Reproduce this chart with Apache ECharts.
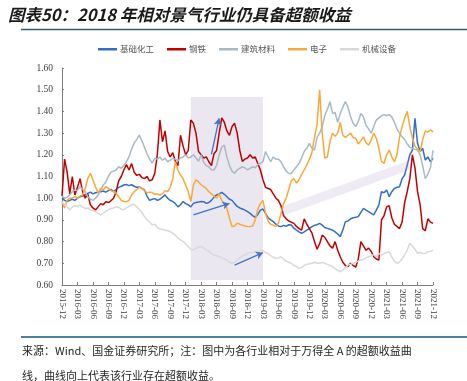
<!DOCTYPE html>
<html>
<head>
<meta charset="utf-8">
<script src="https://cdn.jsdelivr.net/npm/echarts@6/dist/echarts.min.js"></script>
<style>
html,body{margin:0;padding:0;background:#fff;}
#chart{width:467px;height:381px;}
</style>
</head>
<body>
<div id="chart"></div>
<script>
// Semi-monthly observations from 2015-12 to 2021-12 (145 points)
const categories = [];
for (let k = 0; k < 145; k++) {
  const m = 11 + Math.floor(k / 2);
  const y = 2015 + Math.floor(m / 12);
  const mm = (m % 12) + 1;
  categories.push(y + '-' + String(mm).padStart(2, '0') + (k % 2 ? '-16' : '-01'));
}
const tickLabels = ['2015-12','2016-03','2016-06','2016-09','2016-12','2017-03','2017-06','2017-09','2017-12',
  '2018-03','2018-06','2018-09','2018-12','2019-03','2019-06','2019-09','2019-12','2020-03','2020-06',
  '2020-09','2020-12','2021-03','2021-06','2021-09','2021-12'];
const seriesNames = ['基础化工','钢铁','建筑材料','电子','机械设备'];

const jichuhuagong = [
  1.00,0.99,0.985,0.99,0.995,0.99,1.00,1.007,1.01,1.015,
  1.022,1.028,1.02,1.025,1.027,1.03,1.033,1.028,1.035,1.041,
  1.03,1.04,1.05,1.055,1.061,1.063,1.058,1.062,1.055,1.05,
  1.052,1.045,1.038,1.01,0.99,0.995,0.998,0.99,0.995,1.005,
  1.015,1.0,0.99,0.985,0.975,0.96,0.97,0.985,0.975,0.97,
  0.96,0.976,0.98,0.982,0.985,0.984,0.976,0.98,0.99,1.005,
  1.015,1.02,1.027,1.018,1.007,0.995,0.99,0.975,0.962,0.955,
  0.95,0.945,0.938,0.93,0.92,0.912,0.925,0.945,0.95,0.93,
  0.91,0.9,0.892,0.88,0.872,0.869,0.875,0.87,0.878,0.876,
  0.862,0.853,0.845,0.838,0.845,0.853,0.86,0.869,0.875,0.878,
  0.884,0.876,0.865,0.861,0.857,0.853,0.845,0.835,0.823,0.853,
  0.892,0.895,0.905,0.91,0.912,0.915,0.935,0.953,0.945,0.938,
  0.93,0.923,0.945,0.969,1.03,1.025,1.038,1.007,1.03,1.045,
  1.05,1.053,1.09,1.107,1.153,1.2,1.222,1.368,1.253,1.215,
  1.23,1.176,1.19,1.168,1.184
];
const gangtie = [
  1.01,1.18,1.12,1.02,1.1,1.015,1.05,1.09,1.03,1.0,
  1.02,0.97,0.955,0.946,0.96,0.975,0.97,0.984,0.98,0.988,
  1.0,1.03,1.08,1.1,1.13,1.155,1.13,1.16,1.12,1.105,
  1.11,1.095,1.09,1.1,1.08,1.085,1.115,1.2,1.36,1.26,
  1.31,1.215,1.19,1.21,1.17,1.15,1.29,1.24,1.2,1.22,
  1.36,1.345,1.3,1.215,1.2,1.185,1.19,1.168,1.15,1.205,
  1.22,1.3,1.37,1.35,1.31,1.29,1.33,1.345,1.3,1.22,
  1.17,1.18,1.185,1.2,1.185,1.19,1.16,1.13,1.085,1.05,
  1.045,1.04,1.02,1.0,0.99,0.965,0.92,0.905,0.895,0.89,
  0.884,0.87,0.86,0.853,0.905,0.88,0.86,0.84,0.8,0.765,
  0.79,0.83,0.82,0.8,0.78,0.77,0.8,0.76,0.73,0.705,
  0.69,0.685,0.7,0.69,0.682,0.72,0.8,0.78,0.76,0.77,
  0.755,0.73,0.72,0.715,0.9,0.92,0.96,0.965,0.91,0.88,
  0.87,0.86,0.89,0.98,1.03,1.09,1.2,1.14,1.03,0.97,
  0.86,0.85,0.905,0.89,0.884
];
const jianzhucailiao = [
  1.01,1.0,1.005,1.015,1.03,1.038,1.035,1.053,1.04,1.03,
  1.007,0.995,0.99,1.0,1.015,1.038,1.06,1.075,1.1,1.12,
  1.125,1.13,1.145,1.138,1.15,1.168,1.19,1.225,1.255,1.27,
  1.291,1.265,1.235,1.205,1.18,1.162,1.184,1.18,1.19,1.175,
  1.185,1.168,1.175,1.184,1.18,1.172,1.185,1.19,1.2,1.185,
  1.19,1.2,1.185,1.17,1.2,1.165,1.15,1.145,1.131,1.13,
  1.15,1.2,1.235,1.245,1.19,1.15,1.125,1.115,1.13,1.138,
  1.145,1.14,1.13,1.138,1.145,1.14,1.155,1.16,1.168,1.215,
  1.19,1.168,1.19,1.18,1.18,1.168,1.145,1.125,1.115,1.113,
  1.13,1.145,1.16,1.185,1.215,1.23,1.253,1.23,1.222,1.28,
  1.3,1.33,1.38,1.41,1.445,1.391,1.395,1.35,1.39,1.42,
  1.445,1.42,1.376,1.345,1.33,1.353,1.39,1.375,1.335,1.32,
  1.3,1.33,1.36,1.37,1.38,1.385,1.38,1.385,1.375,1.35,
  1.32,1.3,1.283,1.27,1.25,1.235,1.23,1.225,1.222,1.2,
  1.15,1.09,1.11,1.14,1.22
];
const dianzi = [
  0.985,0.955,0.99,1.0,1.0,1.007,1.0,1.01,1.015,1.045,
  1.09,1.115,1.085,1.053,1.025,1.045,1.038,1.053,1.045,1.035,
  1.03,1.022,1.007,0.99,0.985,0.984,0.99,1.015,1.03,1.04,
  1.05,1.045,1.035,1.025,1.028,1.026,1.018,1.02,1.015,1.02,
  1.035,1.03,1.05,1.09,1.168,1.13,1.107,1.09,1.06,1.03,
  0.985,1.06,1.085,1.075,1.062,1.053,1.045,1.03,1.02,1.01,
  1.0,1.02,0.99,0.976,0.955,0.907,0.87,0.872,0.885,0.88,
  0.876,0.872,0.87,0.869,0.872,0.9,0.95,0.975,0.99,0.93,
  0.895,0.88,0.876,0.869,0.885,0.93,0.975,1.0,1.04,1.08,
  1.09,1.07,1.085,1.11,1.13,1.153,1.18,1.21,1.28,1.34,
  1.5,1.3,1.185,1.19,1.26,1.3,1.285,1.3,1.35,1.29,
  1.28,1.29,1.3,1.28,1.276,1.25,1.265,1.283,1.255,1.245,
  1.268,1.3,1.276,1.23,1.17,1.16,1.2,1.222,1.19,1.168,
  1.2,1.28,1.33,1.37,1.4,1.33,1.28,1.24,1.225,1.215,
  1.27,1.31,1.305,1.315,1.306
];
const jixieshebei = [
  0.984,0.97,0.96,0.946,0.96,0.965,0.962,0.969,0.96,0.953,
  0.955,0.946,0.942,0.938,0.93,0.923,0.93,0.94,0.946,0.953,
  0.955,0.961,0.958,0.95,0.946,0.955,0.962,0.97,0.972,0.96,
  0.948,0.935,0.915,0.9,0.89,0.877,0.88,0.865,0.858,0.856,
  0.853,0.85,0.846,0.838,0.83,0.815,0.808,0.8,0.79,0.777,
  0.765,0.762,0.769,0.775,0.778,0.77,0.762,0.756,0.745,0.738,
  0.735,0.73,0.725,0.72,0.715,0.705,0.7,0.705,0.715,0.725,
  0.735,0.738,0.745,0.748,0.75,0.754,0.755,0.76,0.758,0.75,
  0.745,0.735,0.728,0.723,0.725,0.73,0.72,0.71,0.705,0.7,
  0.69,0.685,0.677,0.68,0.69,0.695,0.698,0.7,0.705,0.7,
  0.7,0.705,0.7,0.695,0.69,0.685,0.675,0.668,0.661,0.67,
  0.68,0.692,0.695,0.7,0.705,0.71,0.715,0.718,0.725,0.73,
  0.735,0.74,0.73,0.746,0.738,0.745,0.75,0.753,0.73,0.71,
  0.7,0.707,0.72,0.74,0.761,0.792,0.78,0.765,0.746,0.75,
  0.746,0.745,0.753,0.755,0.761
];
const seriesData = [jichuhuagong, gangtie, jianzhucailiao, dianzi, jixieshebei];
const seriesColors = ['#2f6fc6','#c00000','#a7bac6','#f9a83a','#d9d9d9'];

// annotations (data coordinates: [category index, value])
const shadeBox = [[50, 0.623], [77.8, 1.466]];
const bandLine = [[84.6, 0.938], [135.1, 1.153]];
const arrows = [
  [[57.5, 1.202], [60.7, 1.368]],
  [[50.7, 0.923], [64.6, 0.976]],
  [[66.9, 0.692], [78.1, 0.749]]
];

const chart = echarts.init(document.getElementById('chart'), null, {renderer: 'canvas'});
const cjk = '"Noto Sans CJK SC", sans-serif';
const serif = '"Liberation Serif", "DejaVu Serif", serif';

const series = seriesNames.map((name, idx) => ({
  name: name,
  type: 'line',
  data: seriesData[idx],
  symbol: 'none',
  showSymbol: false,
  z: 3,
  lineStyle: {width: 1.5, color: seriesColors[idx]},
  itemStyle: {color: seriesColors[idx]},
  emphasis: {disabled: true},
  silent: true
}));

series.unshift({
  name: 'shade',
  type: 'line',
  data: [],
  z: 1,
  silent: true,
  markArea: {
    silent: true,
    itemStyle: {color: 'rgba(150,130,180,0.19)'},
    data: [[{coord: shadeBox[0]}, {coord: shadeBox[1]}]]
  },
  markLine: {
    silent: true,
    symbol: ['none', 'none'],
    label: {show: false},
    lineStyle: {type: 'solid', width: 9, color: 'rgba(170,155,200,0.2)', cap: 'butt'},
    data: [[{coord: bandLine[0]}, {coord: bandLine[1]}]]
  }
});

series.push({
  name: 'arrows',
  type: 'line',
  data: [],
  z: 5,
  silent: true,
  markLine: {
    silent: true,
    symbol: ['none', 'arrow'],
    symbolSize: [6, 7],
    label: {show: false},
    lineStyle: {type: 'solid', width: 1.3, color: '#4472c4'},
    data: arrows.map(a => [{coord: a[0]}, {coord: a[1]}])
  }
});

chart.setOption({
  animation: false,
  backgroundColor: '#fff',
  grid: {left: 62, right: 34, top: 68, bottom: 96, containLabel: false},
  legend: {
    data: seriesNames,
    left: 93,
    top: 40,
    icon: 'rect',
    itemWidth: 19,
    itemHeight: 2.5,
    itemGap: 13,
    textStyle: {fontFamily: cjk, fontSize: 8.5, color: '#595959', padding: [0, 0, 0, -2]}
  },
  xAxis: {
    type: 'category',
    data: categories,
    boundaryGap: false,
    axisLine: {lineStyle: {color: '#7f7f7f', width: 1}},
    axisTick: {show: true, inside: true, length: 3, interval: 5, lineStyle: {color: '#7f7f7f'}},
    axisLabel: {
      interval: 5,
      rotate: -90,
      margin: 4,
      fontFamily: serif,
      fontSize: 9,
      color: '#404040',
      formatter: function (v, i) { return i % 6 === 0 ? tickLabels[i / 6] : ''; }
    },
    splitLine: {show: false}
  },
  yAxis: {
    type: 'value',
    min: 0.6,
    max: 1.6,
    interval: 0.1,
    axisLine: {show: true, lineStyle: {color: '#7f7f7f', width: 1}},
    axisTick: {show: true, inside: true, length: 2, lineStyle: {color: '#7f7f7f'}},
    axisLabel: {
      margin: 9,
      fontFamily: serif,
      fontSize: 9.5,
      color: '#404040',
      formatter: function (v) { return v.toFixed(2); }
    },
    splitLine: {show: false}
  },
  graphic: [
    {type: 'text', left: 8, top: 6, style: {text: '图表50：2018 年相对景气行业仍具备超额收益', font: 'italic bold 16.5px ' + cjk, fill: '#1a1a1a'}},
    {type: 'line', shape: {x1: 21, y1: 29.5, x2: 467, y2: 29.5}, style: {stroke: '#2e5a78', lineWidth: 1.5}},
    {type: 'line', shape: {x1: 21, y1: 337, x2: 467, y2: 337}, style: {stroke: '#4f819e', lineWidth: 2}},
    {type: 'text', left: 22, top: 345, style: {text: '来源：Wind、国金证券研究所；注：图中为各行业相对于万得全 A 的超额收益曲', font: '11px ' + cjk, fill: '#262626'}},
    {type: 'text', left: 22, top: 370, style: {text: '线，曲线向上代表该行业存在超额收益。', font: '11px ' + cjk, fill: '#262626'}}
  ],
  series: series
});
</script>
</body>
</html>
